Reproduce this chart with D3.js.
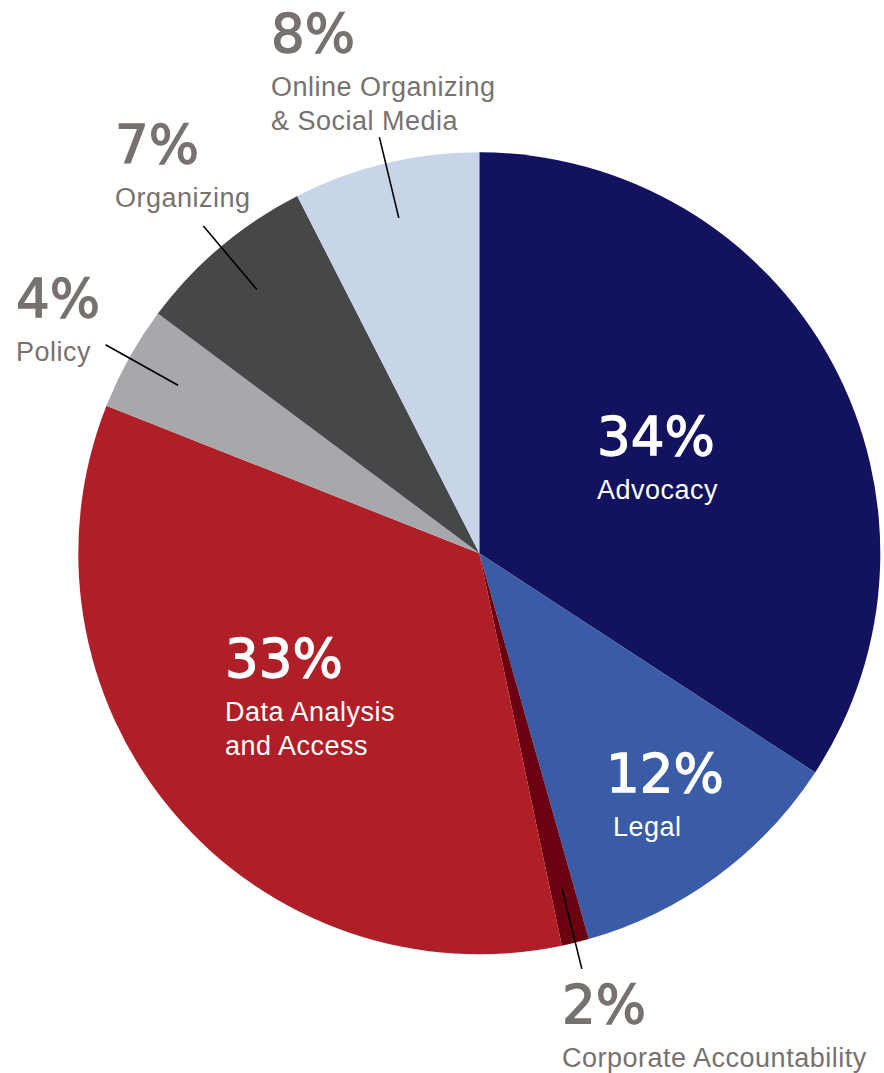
<!DOCTYPE html>
<html>
<head>
<meta charset="utf-8">
<script src="https://cdn.jsdelivr.net/npm/d3@7"></script>
<style>
  html, body { margin: 0; padding: 0; background: #ffffff; }
  svg { display: block; }
</style>
</head>
<body>
<svg id="chart" width="884" height="1073"></svg>
<script>
// ---- data ----
const categories = ["Advocacy", "Legal", "Corporate Accountability", "Data Analysis and Access", "Policy", "Organizing", "Online Organizing & Social Media"];
const shares = [34.2, 11.4, 1.1, 34.3, 4.2, 7.3, 7.5];          // slice sizes as drawn
const percentLabels = ["34%", "12%", "2%", "33%", "4%", "7%", "8%"];  // printed labels
const labelLines = [["Advocacy"], ["Legal"], ["Corporate Accountability"], ["Data Analysis", "and Access"], ["Policy"], ["Organizing"], ["Online Organizing", "& Social Media"]];
const colors = ["#12125e", "#3a5ba6", "#6a0010", "#b01f28", "#a6a8ab", "#464749", "#c8d5e8"];

// ---- layout ----
const cx = 479.3, cy = 553.3, radius = 401;
const labelPos = [
  {x: 597, y: 455, inside: true},
  {x: 606, y: 792, inside: true, subX: 613},
  {x: 562, y: 1023, inside: false, leader: true},
  {x: 225, y: 677, inside: true},
  {x: 16, y: 317, inside: false, leader: true},
  {x: 115, y: 163, inside: false, leader: true},
  {x: 271, y: 52, inside: false, leader: true}
];

const svg = d3.select("#chart");
const g = svg.append("g").attr("transform", `translate(${cx},${cy})`);

const pie = d3.pie().sort(null).value(d => d).startAngle(0).endAngle(2 * Math.PI);
const arcs = pie(shares);
const arc = d3.arc().innerRadius(0).outerRadius(radius);

g.selectAll("path.slice")
  .data(arcs)
  .join("path")
  .attr("class", "slice")
  .attr("d", arc)
  .attr("fill", (d, i) => colors[i]);

// leader lines
const inner = d3.arc().innerRadius(345).outerRadius(345);
const outer = d3.arc().innerRadius(428).outerRadius(428);
g.selectAll("line.leader")
  .data(arcs.filter((d, i) => labelPos[i].leader))
  .join("line")
  .attr("class", "leader")
  .attr("x1", d => inner.centroid(d)[0])
  .attr("y1", d => inner.centroid(d)[1])
  .attr("x2", d => outer.centroid(d)[0])
  .attr("y2", d => outer.centroid(d)[1])
  .attr("stroke", "#000")
  .attr("stroke-width", 1.6);

// labels
const pctFont = "'DejaVu Sans', sans-serif";
const txtFont = "'Liberation Sans', Arial, sans-serif";
const grey = "#77716f";

labelPos.forEach((p, i) => {
  const col = p.inside ? "#ffffff" : grey;
  svg.append("text")
    .attr("x", p.x)
    .attr("y", p.y)
    .attr("font-family", pctFont)
    .attr("font-weight", 400)
    .attr("font-size", 53)
    .attr("fill", col)
    .attr("stroke", col)
    .attr("stroke-width", 1.3)
    .text(percentLabels[i]);
  const lines = labelLines[i];
  const gap = 44;
  lines.forEach((ln, j) => {
    svg.append("text")
      .attr("x", p.subX || p.x)
      .attr("y", p.y + gap + j * 34)
      .attr("font-family", txtFont)
      .attr("font-size", 27)
      .attr("letter-spacing", 0.5)
      .attr("fill", col)
      .text(ln);
  });
});
</script>
</body>
</html>
